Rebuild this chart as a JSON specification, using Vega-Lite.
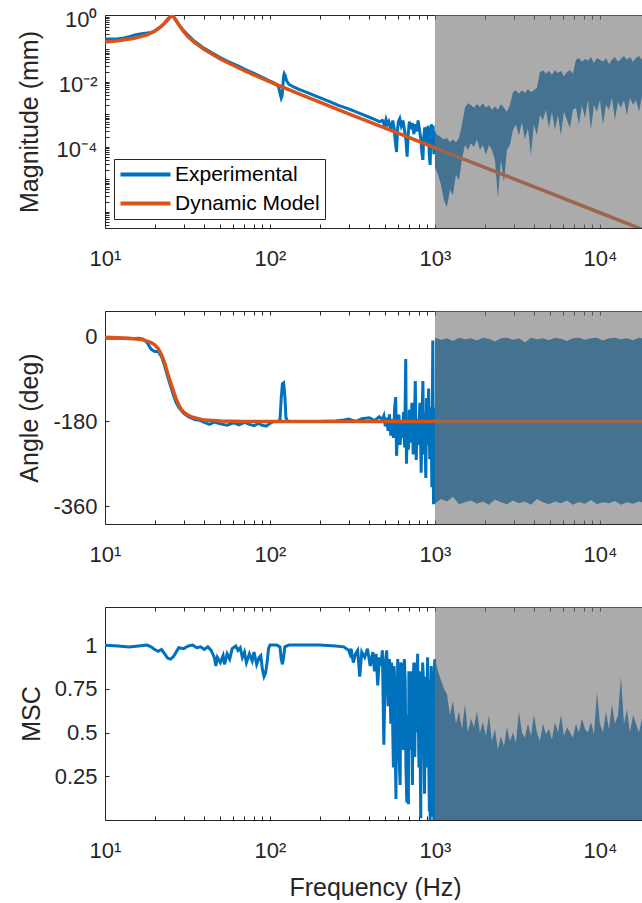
{
"$schema": "https://vega.github.io/schema/vega-lite/v6.json",
"background": "white",
"padding": {"left": 17, "top": 8, "right": 0, "bottom": 0},
"config": {
  "font": "Liberation Sans",
  "view": {"stroke": null},
  "axis": {"labelFont": "Liberation Sans", "labelFontSize": 22, "labelColor": "#262626", "titleFont": "Liberation Sans", "titleFontSize": 25, "titleFontWeight": "normal", "titleColor": "#262626", "domainColor": "#262626", "tickColor": "#262626", "grid": false, "tickSize": -4, "labelOverlap": false, "labelFlush": false}
},
"datasets": {
  "shade": [{"f1": 1000, "f2": 20000}],
  "magExp": [{"f":10,"v":0.21},{"f":11,"v":0.21},{"f":12,"v":0.215},{"f":13,"v":0.225},{"f":14,"v":0.245},{"f":15,"v":0.275},{"f":16,"v":0.295},{"f":17,"v":0.31},{"f":18,"v":0.32},{"f":19,"v":0.335},{"f":20,"v":0.37},{"f":21,"v":0.43},{"f":22,"v":0.52},{"f":23,"v":0.63},{"f":24,"v":0.8},{"f":25,"v":1.0},{"f":25.5,"v":1.12},{"f":26,"v":1.0},{"f":27,"v":0.76},{"f":28,"v":0.58},{"f":30,"v":0.38},{"f":32,"v":0.27},{"f":35,"v":0.175},{"f":38,"v":0.13},{"f":40,"v":0.108},{"f":45,"v":0.076},{"f":50,"v":0.056},{"f":55,"v":0.044},{"f":60,"v":0.036},{"f":65,"v":0.03},{"f":70,"v":0.025},{"f":80,"v":0.0185},{"f":90,"v":0.0138},{"f":100,"v":0.0107},{"f":105,"v":0.0096},{"f":110,"v":0.0083},{"f":113,"v":0.0068},{"f":115,"v":0.0045},{"f":117,"v":0.0032},{"f":118.5,"v":0.0038},{"f":120,"v":0.009},{"f":121,"v":0.015},{"f":122,"v":0.018},{"f":123.5,"v":0.016},{"f":126,"v":0.011},{"f":130,"v":0.0085},{"f":140,"v":0.0069},{"f":150,"v":0.0059},{"f":170,"v":0.0046},{"f":200,"v":0.0033},{"f":230,"v":0.0025},{"f":260,"v":0.0019},{"f":300,"v":0.00148},{"f":350,"v":0.00108},{"f":400,"v":0.00082},{"f":430,"v":0.0007},{"f":460,"v":0.0006},{"f":480,"v":6.5e-4},{"f":495,"v":4.5e-4},{"f":505,"v":7e-4},{"f":515,"v":5e-4},{"f":525,"v":6e-4},{"f":540,"v":3.5e-4},{"f":555,"v":6.5e-4},{"f":565,"v":4e-4},{"f":575,"v":1.5e-4},{"f":585,"v":7e-5},{"f":592,"v":3e-4},{"f":600,"v":6e-4},{"f":612,"v":7.5e-4},{"f":625,"v":4.5e-4},{"f":640,"v":6.5e-4},{"f":655,"v":3e-4},{"f":668,"v":1.5e-4},{"f":678,"v":5e-5},{"f":688,"v":2.5e-4},{"f":700,"v":6e-4},{"f":715,"v":3.5e-4},{"f":728,"v":5.5e-4},{"f":745,"v":2.5e-4},{"f":760,"v":5e-4},{"f":775,"v":3e-4},{"f":790,"v":6.5e-4},{"f":805,"v":3.5e-4},{"f":820,"v":1.8e-4},{"f":835,"v":6e-5},{"f":845,"v":4e-5},{"f":855,"v":2e-4},{"f":868,"v":4e-4},{"f":880,"v":3e-4},{"f":895,"v":1.2e-4},{"f":910,"v":4.5e-4},{"f":925,"v":5e-5},{"f":935,"v":2.8e-5},{"f":945,"v":2.5e-4},{"f":955,"v":5e-4},{"f":965,"v":1.5e-4},{"f":975,"v":4.5e-4},{"f":985,"v":6e-5},{"f":995,"v":3e-4},{"f":1000,"v":1.5e-4}],
  "magBand": [{"f":1000,"hi":2.7e-4,"lo":2.4e-5},{"f":1043,"hi":2.3e-4,"lo":1.4e-5},{"f":1087,"hi":2.0e-4,"lo":6.8e-6},{"f":1134,"hi":1.7e-4,"lo":2.3e-6},{"f":1182,"hi":1.9e-4,"lo":1.4e-6},{"f":1233,"hi":1.4e-4,"lo":4.8e-6},{"f":1285,"hi":1.7e-4,"lo":3.3e-6},{"f":1340,"hi":1.4e-4,"lo":1.4e-5},{"f":1398,"hi":1.9e-4,"lo":9.5e-6},{"f":1457,"hi":4.8e-4,"lo":4.0e-5},{"f":1520,"hi":1.6e-3,"lo":1.15e-4},{"f":1585,"hi":2.2e-3,"lo":8.1e-5},{"f":1652,"hi":1.95e-3,"lo":1.3e-4},{"f":1723,"hi":1.6e-3,"lo":1.0e-4},{"f":1797,"hi":2.1e-3,"lo":1.7e-4},{"f":1873,"hi":1.7e-3,"lo":8.1e-5},{"f":1953,"hi":2.2e-3,"lo":1.15e-4},{"f":2037,"hi":1.6e-3,"lo":5.6e-5},{"f":2124,"hi":1.95e-3,"lo":1.15e-4},{"f":2215,"hi":1.4e-3,"lo":8.1e-5},{"f":2310,"hi":1.8e-3,"lo":4.0e-5},{"f":2408,"hi":1.4e-3,"lo":2.7e-6},{"f":2511,"hi":2.1e-3,"lo":4.0e-5},{"f":2619,"hi":1.6e-3,"lo":8.3e-6},{"f":2730,"hi":1.2e-3,"lo":8.1e-5},{"f":2847,"hi":1.95e-3,"lo":1.15e-4},{"f":2969,"hi":4.9e-3,"lo":3.3e-4},{"f":3096,"hi":5.6e-3,"lo":4.8e-4},{"f":3228,"hi":4.3e-3,"lo":2.3e-4},{"f":3366,"hi":5.6e-3,"lo":5.9e-4},{"f":3510,"hi":4.6e-3,"lo":1.7e-4},{"f":3660,"hi":6.0e-3,"lo":3.8e-4},{"f":3817,"hi":4.9e-3,"lo":5.6e-5},{"f":3980,"hi":5.6e-3,"lo":4.8e-4},{"f":4150,"hi":6.6e-3,"lo":2.3e-4},{"f":4328,"hi":0.020,"lo":9.5e-4},{"f":4513,"hi":0.023,"lo":6.8e-4},{"f":4706,"hi":0.018,"lo":1.4e-3},{"f":4907,"hi":0.022,"lo":3.8e-4},{"f":5117,"hi":0.0166,"lo":1.2e-3},{"f":5336,"hi":0.023,"lo":3.3e-4},{"f":5564,"hi":0.019,"lo":9.5e-4},{"f":5802,"hi":0.022,"lo":2.3e-4},{"f":6050,"hi":0.015,"lo":1.2e-3},{"f":6309,"hi":0.020,"lo":6.8e-4},{"f":6579,"hi":0.023,"lo":3.8e-4},{"f":6860,"hi":0.018,"lo":1.4e-3},{"f":7154,"hi":0.048,"lo":1.6e-3},{"f":7460,"hi":0.055,"lo":4.8e-4},{"f":7779,"hi":0.042,"lo":1.95e-3},{"f":8111,"hi":0.051,"lo":7.8e-4},{"f":8459,"hi":0.045,"lo":2.8e-3},{"f":8820,"hi":0.059,"lo":3.3e-4},{"f":9198,"hi":0.038,"lo":1.95e-3},{"f":9591,"hi":0.055,"lo":1.2e-3},{"f":10000,"hi":0.048,"lo":2.8e-3},{"f":10428,"hi":0.042,"lo":4.8e-4},{"f":10874,"hi":0.055,"lo":1.95e-3},{"f":11340,"hi":0.035,"lo":1.4e-3},{"f":11826,"hi":0.048,"lo":3.2e-3},{"f":12332,"hi":0.059,"lo":6.8e-4},{"f":12860,"hi":0.042,"lo":2.4e-3},{"f":13411,"hi":0.051,"lo":1.6e-3},{"f":13985,"hi":0.063,"lo":2.8e-3},{"f":14584,"hi":0.048,"lo":9.5e-4},{"f":15208,"hi":0.059,"lo":3.2e-3},{"f":15859,"hi":0.042,"lo":1.95e-3},{"f":16538,"hi":0.055,"lo":2.8e-3},{"f":17246,"hi":0.063,"lo":1.2e-3},{"f":17985,"hi":0.048,"lo":3.5e-3},{"f":18755,"hi":0.055,"lo":2.1e-3}],
  "magMod": [{"f":10,"v":0.171},{"f":12,"v":0.186},{"f":15,"v":0.222},{"f":18,"v":0.284},{"f":20,"v":0.364},{"f":22,"v":0.518},{"f":23,"v":0.656},{"f":24,"v":0.86},{"f":25,"v":1.07},{"f":25.5,"v":1.12},{"f":26,"v":1.035},{"f":27,"v":0.78},{"f":28,"v":0.576},{"f":30,"v":0.35},{"f":32,"v":0.242},{"f":35,"v":0.161},{"f":40,"v":0.099},{"f":50,"v":0.051},{"f":70,"v":0.0222},{"f":100,"v":0.0101},{"f":150,"v":0.0043},{"f":200,"v":0.0024},{"f":300,"v":0.00105},{"f":500,"v":3.79e-4},{"f":700,"v":1.93e-4},{"f":1000,"v":9.43e-5},{"f":2000,"v":2.36e-5},{"f":5000,"v":3.77e-6},{"f":10000,"v":9.43e-7},{"f":15000,"v":4.19e-7},{"f":20000,"v":2.36e-7}],
  "angExp": [{"f":10,"v":-3},{"f":12,"v":-3},{"f":14,"v":-4},{"f":16,"v":-3},{"f":17,"v":-5},{"f":18,"v":-12},{"f":19,"v":-26},{"f":20,"v":-31},{"f":21,"v":-31},{"f":22,"v":-42},{"f":23,"v":-62},{"f":24,"v":-85},{"f":25,"v":-105},{"f":26,"v":-124},{"f":27,"v":-140},{"f":28,"v":-150},{"f":30,"v":-163},{"f":32,"v":-170},{"f":35,"v":-176},{"f":38,"v":-178},{"f":40,"v":-182},{"f":43,"v":-186},{"f":46,"v":-181},{"f":50,"v":-185},{"f":55,"v":-188},{"f":60,"v":-183},{"f":65,"v":-187},{"f":70,"v":-182},{"f":75,"v":-186},{"f":80,"v":-189},{"f":85,"v":-184},{"f":90,"v":-188},{"f":95,"v":-190},{"f":100,"v":-184},{"f":105,"v":-180},{"f":112,"v":-180},{"f":115,"v":-176},{"f":117,"v":-130},{"f":119,"v":-100},{"f":121,"v":-98},{"f":123,"v":-125},{"f":125,"v":-172},{"f":128,"v":-180},{"f":150,"v":-180},{"f":200,"v":-180},{"f":250,"v":-179},{"f":280,"v":-177},{"f":300,"v":-175},{"f":330,"v":-180},{"f":360,"v":-174},{"f":400,"v":-172},{"f":430,"v":-178},{"f":460,"v":-170},{"f":480,"v":-176},{"f":490,"v":-168},{"f":500,"v":-190},{"f":510,"v":-172},{"f":520,"v":-200},{"f":530,"v":-165},{"f":540,"v":-210},{"f":550,"v":-175},{"f":560,"v":-215},{"f":570,"v":-150},{"f":578,"v":-128},{"f":585,"v":-253},{"f":595,"v":-200},{"f":605,"v":-165},{"f":615,"v":-230},{"f":625,"v":-180},{"f":635,"v":-215},{"f":645,"v":-160},{"f":655,"v":-235},{"f":665,"v":-47},{"f":672,"v":-270},{"f":680,"v":-200},{"f":690,"v":-240},{"f":700,"v":-155},{"f":712,"v":-225},{"f":725,"v":-140},{"f":738,"v":-250},{"f":750,"v":-190},{"f":760,"v":-94},{"f":770,"v":-262},{"f":780,"v":-175},{"f":795,"v":-230},{"f":810,"v":-140},{"f":825,"v":-289},{"f":835,"v":-170},{"f":845,"v":-94},{"f":855,"v":-250},{"f":865,"v":-160},{"f":880,"v":-300},{"f":890,"v":-130},{"f":905,"v":-230},{"f":915,"v":-110},{"f":930,"v":-260},{"f":945,"v":-150},{"f":958,"v":-320},{"f":970,"v":-8},{"f":980,"v":-356},{"f":990,"v":-150},{"f":1000,"v":-340}],
  "angBand": [{"f":1000,"hi":-2,"lo":-355},{"f":1087,"hi":-6,"lo":-345},{"f":1182,"hi":-3,"lo":-350},{"f":1285,"hi":-9,"lo":-340},{"f":1398,"hi":-2,"lo":-356},{"f":1520,"hi":-5,"lo":-352},{"f":1652,"hi":-3,"lo":-348},{"f":1797,"hi":-8,"lo":-355},{"f":1953,"hi":-2,"lo":-350},{"f":2124,"hi":-4,"lo":-357},{"f":2310,"hi":-10,"lo":-346},{"f":2511,"hi":-3,"lo":-352},{"f":2730,"hi":-2,"lo":-356},{"f":2969,"hi":-6,"lo":-348},{"f":3228,"hi":-3,"lo":-354},{"f":3510,"hi":-12,"lo":-350},{"f":3817,"hi":-2,"lo":-357},{"f":4150,"hi":-5,"lo":-345},{"f":4513,"hi":-3,"lo":-352},{"f":4907,"hi":-7,"lo":-356},{"f":5336,"hi":-2,"lo":-350},{"f":5802,"hi":-4,"lo":-354},{"f":6309,"hi":-9,"lo":-348},{"f":6860,"hi":-3,"lo":-357},{"f":7460,"hi":-2,"lo":-351},{"f":8111,"hi":-6,"lo":-355},{"f":8820,"hi":-3,"lo":-347},{"f":9591,"hi":-2,"lo":-356},{"f":10428,"hi":-8,"lo":-352},{"f":11340,"hi":-3,"lo":-354},{"f":12332,"hi":-2,"lo":-349},{"f":13411,"hi":-5,"lo":-357},{"f":14584,"hi":-3,"lo":-352},{"f":15859,"hi":-7,"lo":-355},{"f":17246,"hi":-2,"lo":-350},{"f":18755,"hi":-4,"lo":-354}],
  "angMod": [{"f":10,"v":-1},{"f":14,"v":-3},{"f":17,"v":-6},{"f":19,"v":-12},{"f":20,"v":-17},{"f":21,"v":-25},{"f":22,"v":-38},{"f":23,"v":-55},{"f":24,"v":-78},{"f":25,"v":-97},{"f":26,"v":-115},{"f":27,"v":-132},{"f":28,"v":-145},{"f":29,"v":-154},{"f":30,"v":-160},{"f":32,"v":-167},{"f":34,"v":-171},{"f":40,"v":-177},{"f":50,"v":-179},{"f":70,"v":-180},{"f":20000,"v":-180}],
  "mscExp": [{"f":10,"v":1.0},{"f":12,"v":0.995},{"f":14,"v":0.99},{"f":16,"v":0.995},{"f":18,"v":1.0},{"f":19,"v":0.99},{"f":20,"v":0.975},{"f":21,"v":0.965},{"f":22,"v":0.975},{"f":23,"v":0.95},{"f":24,"v":0.925},{"f":25,"v":0.92},{"f":26,"v":0.935},{"f":27,"v":0.96},{"f":28,"v":0.985},{"f":30,"v":0.98},{"f":32,"v":0.995},{"f":34,"v":1.0},{"f":36,"v":0.985},{"f":38,"v":0.99},{"f":40,"v":0.975},{"f":42,"v":0.99},{"f":44,"v":0.97},{"f":46,"v":0.93},{"f":47,"v":0.88},{"f":48,"v":0.93},{"f":50,"v":0.9},{"f":52,"v":0.94},{"f":53,"v":0.89},{"f":55,"v":0.95},{"f":57,"v":0.92},{"f":59,"v":0.98},{"f":62,"v":0.995},{"f":64,"v":0.97},{"f":66,"v":0.985},{"f":68,"v":0.93},{"f":70,"v":0.96},{"f":72,"v":0.9},{"f":75,"v":0.95},{"f":78,"v":0.91},{"f":80,"v":0.96},{"f":83,"v":0.89},{"f":86,"v":0.93},{"f":88,"v":0.94},{"f":90,"v":0.86},{"f":92,"v":0.82},{"f":94,"v":0.84},{"f":96,"v":0.9},{"f":98,"v":0.98},{"f":100,"v":1.0},{"f":110,"v":1.0},{"f":115,"v":0.99},{"f":117,"v":0.92},{"f":119,"v":0.89},{"f":121,"v":0.93},{"f":123,"v":0.99},{"f":130,"v":1.0},{"f":200,"v":1.0},{"f":250,"v":0.995},{"f":280,"v":0.99},{"f":300,"v":0.97},{"f":305,"v":0.95},{"f":310,"v":0.98},{"f":320,"v":0.9},{"f":330,"v":0.95},{"f":340,"v":0.97},{"f":350,"v":0.82},{"f":360,"v":0.96},{"f":375,"v":0.93},{"f":390,"v":0.98},{"f":405,"v":0.88},{"f":420,"v":0.96},{"f":430,"v":0.85},{"f":440,"v":0.95},{"f":450,"v":0.77},{"f":460,"v":0.93},{"f":470,"v":0.88},{"f":480,"v":0.97},{"f":490,"v":0.43},{"f":500,"v":0.9},{"f":510,"v":0.97},{"f":520,"v":0.65},{"f":530,"v":0.92},{"f":540,"v":0.55},{"f":545,"v":0.9},{"f":550,"v":0.85},{"f":555,"v":0.5},{"f":560,"v":0.3},{"f":565,"v":0.88},{"f":570,"v":0.8},{"f":575,"v":0.4},{"f":580,"v":0.12},{"f":585,"v":0.7},{"f":590,"v":0.6},{"f":595,"v":0.92},{"f":600,"v":0.75},{"f":607,"v":0.35},{"f":615,"v":0.2},{"f":622,"v":0.9},{"f":630,"v":0.87},{"f":637,"v":0.55},{"f":645,"v":0.4},{"f":652,"v":0.92},{"f":660,"v":0.8},{"f":667,"v":0.3},{"f":675,"v":0.1},{"f":682,"v":0.6},{"f":690,"v":0.09},{"f":695,"v":0.85},{"f":700,"v":0.7},{"f":707,"v":0.4},{"f":715,"v":0.85},{"f":722,"v":0.6},{"f":730,"v":0.2},{"f":737,"v":0.8},{"f":745,"v":0.9},{"f":750,"v":0.55},{"f":755,"v":0.36},{"f":762,"v":0.9},{"f":770,"v":0.85},{"f":777,"v":0.5},{"f":785,"v":0.95},{"f":792,"v":0.6},{"f":800,"v":0.3},{"f":805,"v":0.85},{"f":810,"v":0.7},{"f":815,"v":0.3},{"f":820,"v":0.01},{"f":827,"v":0.75},{"f":835,"v":0.6},{"f":842,"v":0.9},{"f":850,"v":0.82},{"f":857,"v":0.45},{"f":865,"v":0.15},{"f":872,"v":0.7},{"f":880,"v":0.82},{"f":887,"v":0.3},{"f":895,"v":0.5},{"f":902,"v":0.93},{"f":910,"v":0.75},{"f":917,"v":0.35},{"f":925,"v":0.05},{"f":930,"v":0.55},{"f":935,"v":0.0},{"f":940,"v":0.8},{"f":945,"v":0.4},{"f":950,"v":0.88},{"f":955,"v":0.7},{"f":960,"v":0.3},{"f":965,"v":0.02},{"f":970,"v":0.85},{"f":975,"v":0.6},{"f":980,"v":0.25},{"f":985,"v":0.0},{"f":990,"v":0.7},{"f":995,"v":0.9},{"f":1000,"v":0.92}],
  "mscBand": [{"f":1000,"hi":0.92},{"f":1043,"hi":0.85},{"f":1087,"hi":0.8},{"f":1134,"hi":0.75},{"f":1182,"hi":0.72},{"f":1233,"hi":0.6},{"f":1285,"hi":0.68},{"f":1340,"hi":0.55},{"f":1398,"hi":0.62},{"f":1457,"hi":0.52},{"f":1520,"hi":0.66},{"f":1585,"hi":0.5},{"f":1652,"hi":0.58},{"f":1723,"hi":0.53},{"f":1797,"hi":0.62},{"f":1873,"hi":0.5},{"f":1953,"hi":0.56},{"f":2037,"hi":0.48},{"f":2124,"hi":0.6},{"f":2215,"hi":0.45},{"f":2310,"hi":0.52},{"f":2408,"hi":0.4},{"f":2511,"hi":0.48},{"f":2619,"hi":0.42},{"f":2730,"hi":0.53},{"f":2847,"hi":0.45},{"f":2969,"hi":0.5},{"f":3096,"hi":0.44},{"f":3228,"hi":0.62},{"f":3366,"hi":0.5},{"f":3510,"hi":0.47},{"f":3660,"hi":0.55},{"f":3817,"hi":0.48},{"f":3980,"hi":0.6},{"f":4150,"hi":0.5},{"f":4328,"hi":0.45},{"f":4513,"hi":0.55},{"f":4706,"hi":0.49},{"f":4907,"hi":0.52},{"f":5117,"hi":0.46},{"f":5336,"hi":0.56},{"f":5564,"hi":0.5},{"f":5802,"hi":0.6},{"f":6050,"hi":0.48},{"f":6309,"hi":0.53},{"f":6579,"hi":0.5},{"f":6860,"hi":0.47},{"f":7154,"hi":0.55},{"f":7460,"hi":0.5},{"f":7779,"hi":0.58},{"f":8111,"hi":0.52},{"f":8459,"hi":0.5},{"f":8820,"hi":0.56},{"f":9198,"hi":0.49},{"f":9591,"hi":0.73},{"f":10000,"hi":0.55},{"f":10428,"hi":0.5},{"f":10874,"hi":0.62},{"f":11340,"hi":0.52},{"f":11826,"hi":0.66},{"f":12332,"hi":0.55},{"f":12860,"hi":0.6},{"f":13411,"hi":0.82},{"f":13985,"hi":0.55},{"f":14584,"hi":0.63},{"f":15208,"hi":0.5},{"f":15859,"hi":0.6},{"f":16538,"hi":0.55},{"f":17246,"hi":0.5},{"f":17985,"hi":0.58},{"f":18755,"hi":0.52}]
},
"vconcat": [
  {
    "width": 540, "height": 213,
    "layer": [
      {"data": {"name": "magExp"}, "mark": {"type": "line", "strokeWidth": 3, "clip": true},
       "encoding": {
         "x": {"field": "f", "type": "quantitative", "scale": {"type": "log", "domain": [10, 18755], "nice": false},
               "axis": {"orient": "bottom", "title": null, "values": [10,20,30,40,50,60,70,80,90,100,200,300,400,500,600,700,800,900,1000,2000,3000,4000,5000,6000,7000,8000,9000,10000], "labelExpr": "datum.value==10?'10¹':datum.value==100?'10²':datum.value==1000?'10³':datum.value==10000?'10⁴':''", "labelPadding": 24, "labelBaseline": "top"}},
         "y": {"field": "v", "type": "quantitative", "scale": {"type": "log", "domain": [3.2e-7, 1.15], "nice": false},
               "axis": {"orient": "left", "title": "Magnitude (mm)", "values": [4e-7,5e-7,6e-7,7e-7,8e-7,9e-7,1e-6,2e-6,3e-6,4e-6,5e-6,6e-6,7e-6,8e-6,9e-6,1e-5,2e-5,3e-5,4e-5,5e-5,6e-5,7e-5,8e-5,9e-5,1e-4,2e-4,3e-4,4e-4,5e-4,6e-4,7e-4,8e-4,9e-4,0.001,0.002,0.003,0.004,0.005,0.006,0.007,0.008,0.009,0.01,0.02,0.03,0.04,0.05,0.06,0.07,0.08,0.09,0.1,0.2,0.3,0.4,0.5,0.6,0.7,0.8,0.9,1], "labelExpr": "datum.value==1?'10⁰':datum.value==0.01?'10⁻²':datum.value==0.0001?'10⁻⁴':''", "labelPadding": 12, "labelOffset": 3, "titlePadding": 14}},
         "color": {"datum": "Experimental", "type": "nominal", "scale": {"domain": ["Experimental", "Dynamic Model"], "range": ["#0072BD", "#D95319"]},
                   "legend": {"orient": "bottom-left", "offset": 9, "title": null, "symbolType": "M-1.8,0L8.2,0", "symbolSize": 100, "symbolStrokeWidth": 4, "labelFontSize": 21, "labelFont": "Liberation Sans", "labelColor": "#000000", "strokeColor": "#262626", "fillColor": "#ffffff", "padding": 5, "rowPadding": 7, "labelOffset": 35}}
       }},
      {"data": {"name": "magBand"}, "mark": {"type": "area", "color": "#0072BD", "clip": true},
       "encoding": {"x": {"field": "f", "type": "quantitative", "axis": null}, "y": {"field": "hi", "type": "quantitative"}, "y2": {"field": "lo"}}},
      {"data": {"name": "magMod"}, "mark": {"type": "line", "strokeWidth": 3.5, "clip": true},
       "encoding": {"x": {"field": "f", "type": "quantitative", "axis": null}, "y": {"field": "v", "type": "quantitative"}, "color": {"datum": "Dynamic Model", "type": "nominal"}}},
      {"data": {"name": "shade"}, "mark": {"type": "rect", "color": "#737373", "opacity": 0.6, "clip": true},
       "encoding": {"x": {"field": "f1", "type": "quantitative", "axis": {"orient": "top", "title": null, "labels": false, "values": [10,20,30,40,50,60,70,80,90,100,200,300,400,500,600,700,800,900,1000,2000,3000,4000,5000,6000,7000,8000,9000,10000]}}, "x2": {"field": "f2"}}}
    ]
  },
  {
    "width": 540, "height": 213,
    "layer": [
      {"data": {"name": "angExp"}, "mark": {"type": "line", "strokeWidth": 3, "color": "#0072BD", "clip": true},
       "encoding": {
         "x": {"field": "f", "type": "quantitative", "scale": {"type": "log", "domain": [10, 18755], "nice": false},
               "axis": {"orient": "bottom", "title": null, "values": [10,20,30,40,50,60,70,80,90,100,200,300,400,500,600,700,800,900,1000,2000,3000,4000,5000,6000,7000,8000,9000,10000], "labelExpr": "datum.value==10?'10¹':datum.value==100?'10²':datum.value==1000?'10³':datum.value==10000?'10⁴':''", "labelPadding": 24, "labelBaseline": "top"}},
         "y": {"field": "v", "type": "quantitative", "scale": {"domain": [-398, 55], "nice": false, "zero": false},
               "axis": {"orient": "left", "title": "Angle (deg)", "values": [0, -180, -360], "labelExpr": "''+datum.value", "labelPadding": 12, "titlePadding": 10}}
       }},
      {"data": {"name": "angBand"}, "mark": {"type": "area", "color": "#0072BD", "clip": true},
       "encoding": {"x": {"field": "f", "type": "quantitative", "axis": null}, "y": {"field": "hi", "type": "quantitative"}, "y2": {"field": "lo"}}},
      {"data": {"name": "angMod"}, "mark": {"type": "line", "strokeWidth": 3.5, "color": "#D95319", "clip": true},
       "encoding": {"x": {"field": "f", "type": "quantitative", "axis": null}, "y": {"field": "v", "type": "quantitative"}}},
      {"data": {"name": "shade"}, "mark": {"type": "rect", "color": "#737373", "opacity": 0.6, "clip": true},
       "encoding": {"x": {"field": "f1", "type": "quantitative", "axis": {"orient": "top", "title": null, "labels": false, "values": [10,20,30,40,50,60,70,80,90,100,200,300,400,500,600,700,800,900,1000,2000,3000,4000,5000,6000,7000,8000,9000,10000]}}, "x2": {"field": "f2"}}}
    ]
  },
  {
    "width": 540, "height": 213,
    "layer": [
      {"data": {"name": "mscExp"}, "mark": {"type": "line", "strokeWidth": 3, "color": "#0072BD", "clip": true},
       "encoding": {
         "x": {"field": "f", "type": "quantitative", "scale": {"type": "log", "domain": [10, 18755], "nice": false},
               "axis": {"orient": "bottom", "title": "Frequency (Hz)", "titlePadding": 14, "values": [10,20,30,40,50,60,70,80,90,100,200,300,400,500,600,700,800,900,1000,2000,3000,4000,5000,6000,7000,8000,9000,10000], "labelExpr": "datum.value==10?'10¹':datum.value==100?'10²':datum.value==1000?'10³':datum.value==10000?'10⁴':''", "labelPadding": 24, "labelBaseline": "top"}},
         "y": {"field": "v", "type": "quantitative", "scale": {"domain": [0, 1.218], "nice": false},
               "axis": {"orient": "left", "title": "MSC", "values": [0.25, 0.5, 0.75, 1], "format": "~g", "labelPadding": 12, "titlePadding": 10}}
       }},
      {"data": {"name": "mscBand"}, "mark": {"type": "area", "color": "#0072BD", "clip": true},
       "encoding": {"x": {"field": "f", "type": "quantitative", "axis": null}, "y": {"field": "hi", "type": "quantitative"}, "y2": {"datum": 0}}},
      {"data": {"name": "shade"}, "mark": {"type": "rect", "color": "#737373", "opacity": 0.6, "clip": true},
       "encoding": {"x": {"field": "f1", "type": "quantitative", "axis": {"orient": "top", "title": null, "labels": false, "values": [10,20,30,40,50,60,70,80,90,100,200,300,400,500,600,700,800,900,1000,2000,3000,4000,5000,6000,7000,8000,9000,10000]}}, "x2": {"field": "f2"}}}
    ]
  }
],
"spacing": 41,
"resolve": {"legend": {"color": "independent"}}
}
